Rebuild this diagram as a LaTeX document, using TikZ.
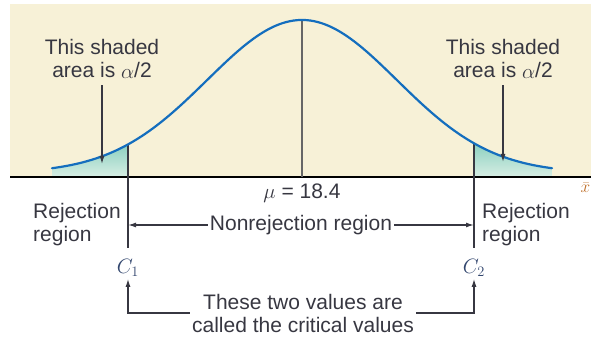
\documentclass[tikz,border=0pt]{standalone}
\usepackage{fontspec}
\setmainfont{Liberation Sans}
\usetikzlibrary{arrows.meta,positioning}
\definecolor{bgcream}{RGB}{247,241,215}
\definecolor{curveblue}{RGB}{20,110,190}
\definecolor{tealtop}{RGB}{140,208,192}
\definecolor{tealbot}{RGB}{215,238,228}
\definecolor{txtgray}{RGB}{55,55,65}
\definecolor{critblue}{RGB}{50,70,110}
\definecolor{xbrown}{RGB}{190,110,40}
\tikzset{
  lbl/.style={font=\fontsize{21}{23}\selectfont, text=txtgray, inner sep=2pt},
  arr/.style={-{Latex[length=8pt,width=5pt]}, line width=1.3pt, draw=txtgray},
  critline/.style={line width=1.5pt, draw=txtgray},
}
\begin{document}
\begin{tikzpicture}[x=1pt,y=1pt,>=Latex]
    \useasboundingbox (0,0) rectangle (591,339);
    % background and axis
    \fill[bgcream] (10,162) rectangle (591,335);
    \pgfmathsetmacro{\hA}{166+153*exp(-((128-302)/95)^2/2)}
    \pgfmathsetmacro{\hB}{166+153*exp(-((474-302)/95)^2/2)}
    \coordinate (c1top) at (128,\hA);
    \coordinate (c2top) at (474,\hB);
    \coordinate (c1bot) at (128,91);
    \coordinate (c2bot) at (474,91);
    \coordinate (peak) at (302,319);
    \coordinate (mid) at (302,162);

    % shaded tails
    \shade[top color=tealtop, bottom color=tealbot]
        (52,162) -- plot[domain=52:128, samples=40] (\x,{166+153*exp(-((\x-302)/95)^2/2)}) -- (128,162) -- cycle;
    \shade[top color=tealtop, bottom color=tealbot]
        (474,162) -- plot[domain=474:552, samples=40] (\x,{166+153*exp(-((\x-302)/95)^2/2)}) -- (552,162) -- cycle;

    \draw[line width=1.5pt] (10,162) -- (591,162);
    \draw[line width=2.5pt, draw=gray!80!black] (peak) -- (mid);
    \draw[critline] (c1top) -- (c1bot);
    \draw[critline] (c2top) -- (c2bot);
    \draw[curveblue, line width=2.2pt, line cap=round]
        plot[domain=52:552, samples=150] (\x,{166+153*exp(-((\x-302)/95)^2/2)});

    % labels
    \node[lbl, align=center] (areaL) at (102,280) {This shaded\\area is $\alpha$/2};
    \node[lbl, align=center] (areaR) at (503,280) {This shaded\\area is $\alpha$/2};
    \coordinate (tipL) at (102,175);
    \coordinate (tipR) at (503,177);
    \draw[arr] (areaL.south) ++(0,-5) -- (tipL);
    \draw[arr] (areaR.south) ++(0,-5) -- (tipR);

    \node[lbl] (mu) at (302,146) {$\mu$ = 18.4};
    \node[lbl] (nonrej) at (301,114) {Nonrejection region};
    \draw[arr] (nonrej.west) -- (nonrej.west -| c1bot);
    \draw[arr] (nonrej.east) -- (nonrej.east -| c2bot);

    \node[lbl, align=left, anchor=west] (rejL) at (31,114) {Rejection\\region};
    \node[lbl, align=left, anchor=west] (rejR) at (480,114) {Rejection\\region};

    \node[lbl, text=critblue] (C1) at (128,71) {$C_1$};
    \node[lbl, text=critblue] (C2) at (474,71) {$C_2$};
    \node[lbl, text=xbrown, anchor=east, inner sep=0.5pt, font=\fontsize{18}{20}\selectfont] (xbar) at (591,151) {$\bar{x}$};

    \node[lbl, align=center] (crit) at (303,26) {These two values are\\called the critical values};
    \draw[arr] (crit.west) -| (C1.south);
    \draw[arr] (crit.east) -| (C2.south);
\end{tikzpicture}
\end{document}
